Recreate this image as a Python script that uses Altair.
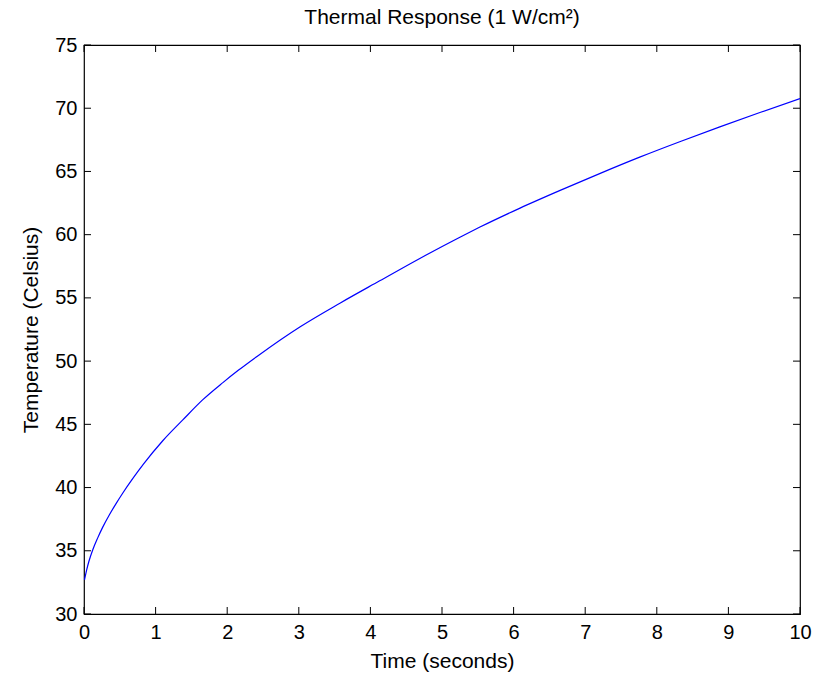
import altair as alt
import pandas as pd

# Curve values
time_s = [0.007, 0.04, 0.068, 0.124, 0.19, 0.26, 0.355, 0.45, 0.54, 0.68,
          0.83, 1.1, 1.38, 1.66, 1.94, 2.15, 2.46, 3.02, 3.58, 4.13,
          4.69, 5.25, 5.53, 6.09, 6.65, 7.21, 7.77, 8.32, 8.88, 9.44, 10.0]
temp_c = [32.7, 33.55, 34.15, 35.1, 36.0, 36.85, 37.85, 38.75, 39.55, 40.7,
          41.85, 43.7, 45.35, 46.95, 48.3, 49.25, 50.55, 52.72, 54.6, 56.35,
          58.12, 59.8, 60.6, 62.1, 63.5, 64.85, 66.15, 67.35, 68.52, 69.66, 70.76]

x_ticks = list(range(0, 11))
y_ticks = list(range(30, 80, 5))

W, H = 716, 569
TL = 7
FONT = "Liberation Sans"
XT = "Time (seconds)"
YT = "Temperature (Celsius)"

df = pd.DataFrame({"t": time_s, "T": temp_c})
xt = pd.DataFrame({"v": x_ticks})
yt = pd.DataFrame({"v": y_ticks})

xs = alt.Scale(domain=[0, 10], nice=False, zero=False)
ys = alt.Scale(domain=[30, 75], nice=False, zero=False)

x_axis = alt.Axis(values=x_ticks, title=XT, ticks=False, domain=False, grid=False,
                  labelFontSize=20, labelPadding=8, labelFlush=False,
                  titleFontSize=21, titleFontWeight="normal", titleY=47,
                  titleBaseline="middle", labelColor="black", titleColor="black",
                  format="d")
y_axis = alt.Axis(values=y_ticks, title=YT, ticks=False, domain=False, grid=False,
                  labelFontSize=20, labelPadding=7, labelFlush=False,
                  titleFontSize=21, titleFontWeight="normal", titleX=-53,
                  titleY=H / 2, titleAngle=-90, titleBaseline="middle",
                  titleAlign="center", labelColor="black", titleColor="black",
                  format="d")

line = alt.Chart(df).mark_line(color="#0000ff", strokeWidth=1.2,
                               interpolate="monotone", clip=True).encode(
    x=alt.X("t:Q", scale=xs, axis=x_axis, title=XT),
    y=alt.Y("T:Q", scale=ys, axis=y_axis, title=YT),
)

tick_style = dict(color="black", strokeWidth=1)
bottom = alt.Chart(xt).mark_rule(**tick_style).encode(
    x=alt.X("v:Q", scale=xs, title=XT), y=alt.value(H - TL), y2=alt.value(H))
top = alt.Chart(xt).mark_rule(**tick_style).encode(
    x=alt.X("v:Q", scale=xs, title=XT), y=alt.value(0), y2=alt.value(TL))
left = alt.Chart(yt).mark_rule(**tick_style).encode(
    y=alt.Y("v:Q", scale=ys, title=YT), x=alt.value(0), x2=alt.value(TL))
right = alt.Chart(yt).mark_rule(**tick_style).encode(
    y=alt.Y("v:Q", scale=ys, title=YT), x=alt.value(W - TL), x2=alt.value(W))

chart = alt.layer(line, bottom, top, left, right).properties(
    width=W, height=H,
    background="white",
    title=alt.TitleParams("Thermal Response (1 W/cm²)", fontSize=21,
                          fontWeight="normal", font=FONT, color="black",
                          offset=7, anchor="middle"),
    autosize=alt.AutoSizeParams(type="none"),
    padding={"left": 84, "top": 45, "right": 21, "bottom": 60},
).configure_view(stroke="black", strokeWidth=1.2
).configure_axis(labelFont=FONT, titleFont=FONT)

chart.save("out.html", embed_options={"renderer": "svg", "actions": False})
